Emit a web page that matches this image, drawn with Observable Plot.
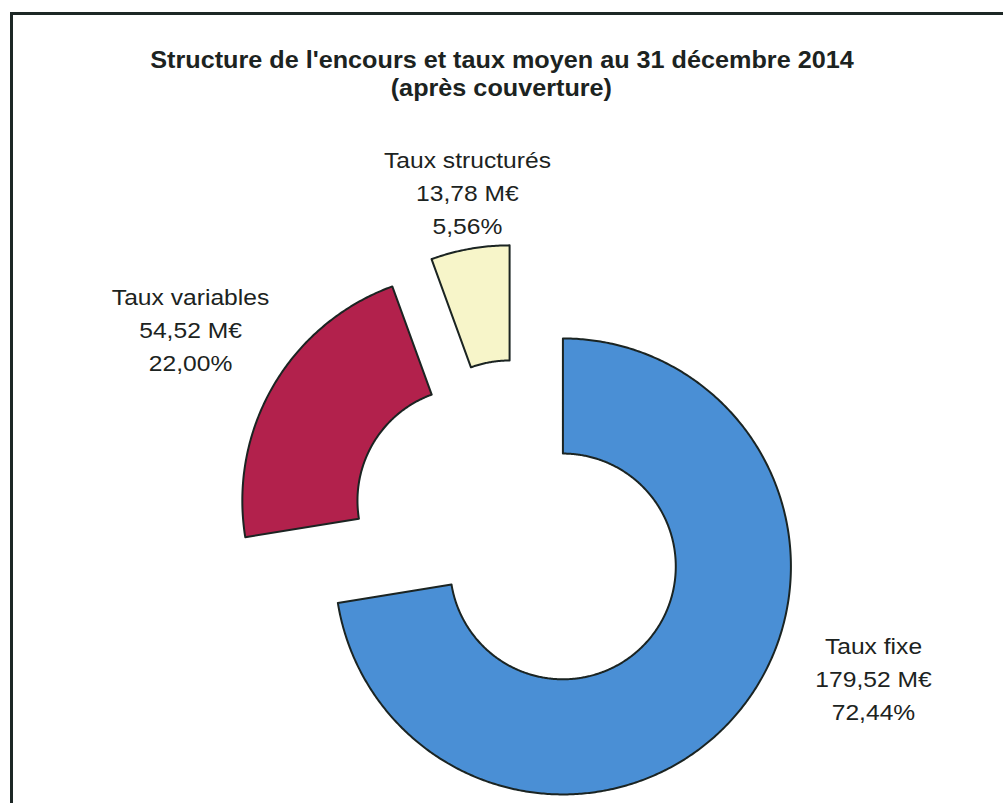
<!DOCTYPE html>
<html>
<head>
<meta charset="utf-8">
<script src="https://cdn.jsdelivr.net/npm/d3@7"></script>
<script src="https://cdn.jsdelivr.net/npm/@observablehq/plot@0.6"></script>
<style>
  html, body { margin: 0; padding: 0; background: #ffffff; }
  #page { position: relative; width: 1003px; height: 803px; overflow: hidden; font-family: "Liberation Sans", Arial, sans-serif; }
  #frame { position: absolute; left: 10px; top: 12px; width: 1010px; height: 820px;
           border-left: 3px solid #1d2725; border-top: 3px solid #1d2725; pointer-events: none; }
  #title { height: 100px; box-sizing: border-box; padding-top: 46px; text-align: center;
           font-weight: bold; font-size: 24px; line-height: 28px; color: #1c2321; }
  #title span { display: inline-block; transform: scaleX(1.05); }
  #chart svg { display: block; }
</style>
</head>
<body>
<div id="page">
  <div id="title"><span>Structure de l'encours et taux moyen au 31 décembre 2014</span><br><span>(après couverture)</span></div>
  <div id="chart"></div>
  <div id="frame"></div>
</div>
<script>
// ---- data ----
const categories = ["Taux fixe", "Taux variables", "Taux structurés"];
const amounts = [179.52, 54.52, 13.78];   // M€

// ---- style / layout ----
const colors = ["#4a8fd5", "#b2214c", "#f7f5c9"];
const innerRatio = 0.495;      // inner radius / outer radius
const explode = 0.25;          // explosion distance (in outer radii)
const labelShiftDeg = [-17.85, 1.17, 1.28];   // label angle shift from slice mid-angle
const labelRadius = [1.681, 1.693, 1.504];    // label distance from centre (outer radii)
const W = 1003, H = 703, R = 228, CX = 519, CY = 429;

const total = d3.sum(amounts);
const fmt = v => v.toFixed(2).replace(".", ",");
const pie = d3.pie().sort(null).startAngle(0).endAngle(2 * Math.PI)(amounts);

const pts = [];
const labels = [];
pie.forEach((p, i) => {
  const a0 = p.startAngle, a1 = p.endAngle, mid = (a0 + a1) / 2;
  const ox = explode * Math.sin(mid), oy = explode * Math.cos(mid);
  const n = Math.max(4, Math.ceil((a1 - a0) / (Math.PI / 360)));
  const ring = [];
  for (let k = 0; k <= n; k++) { const a = a0 + (a1 - a0) * k / n; ring.push([ox + Math.sin(a), oy + Math.cos(a)]); }
  for (let k = n; k >= 0; k--) { const a = a0 + (a1 - a0) * k / n; ring.push([ox + innerRatio * Math.sin(a), oy + innerRatio * Math.cos(a)]); }
  ring.push(ring[0]);
  ring.forEach(([x, y]) => pts.push({cat: categories[i], x, y}));
  const la = mid + labelShiftDeg[i] * Math.PI / 180;
  labels.push({
    cat: categories[i],
    x: labelRadius[i] * Math.sin(la),
    y: labelRadius[i] * Math.cos(la),
    text: `${categories[i]}\n${fmt(amounts[i])} M€\n${fmt(amounts[i] / total * 100)}%`
  });
});

const chart = Plot.plot({
  width: W, height: H, margin: 0,
  x: {domain: [-CX / R, (W - CX) / R], axis: null},
  y: {domain: [-(H - CY) / R, CY / R], axis: null},
  color: {domain: categories, range: colors},
  style: {background: "transparent", fontFamily: "Liberation Sans, Arial, sans-serif"},
  marks: [
    Plot.line(pts, {x: "x", y: "y", z: "cat", fill: "cat", stroke: "#1b2422", strokeWidth: 2, strokeLinejoin: "round"}),
    Plot.text(labels, {x: "x", y: "y", text: "text", fontSize: 22, lineHeight: 1.5, fill: "#1c2321", textAnchor: "middle"})
  ]
});
d3.select(chart).selectAll("text").each(function () {
  const t = this.getAttribute("transform");
  if (t) this.setAttribute("transform", t + " scale(1.12,1)");
});
document.getElementById("chart").appendChild(chart);
</script>
</body>
</html>
